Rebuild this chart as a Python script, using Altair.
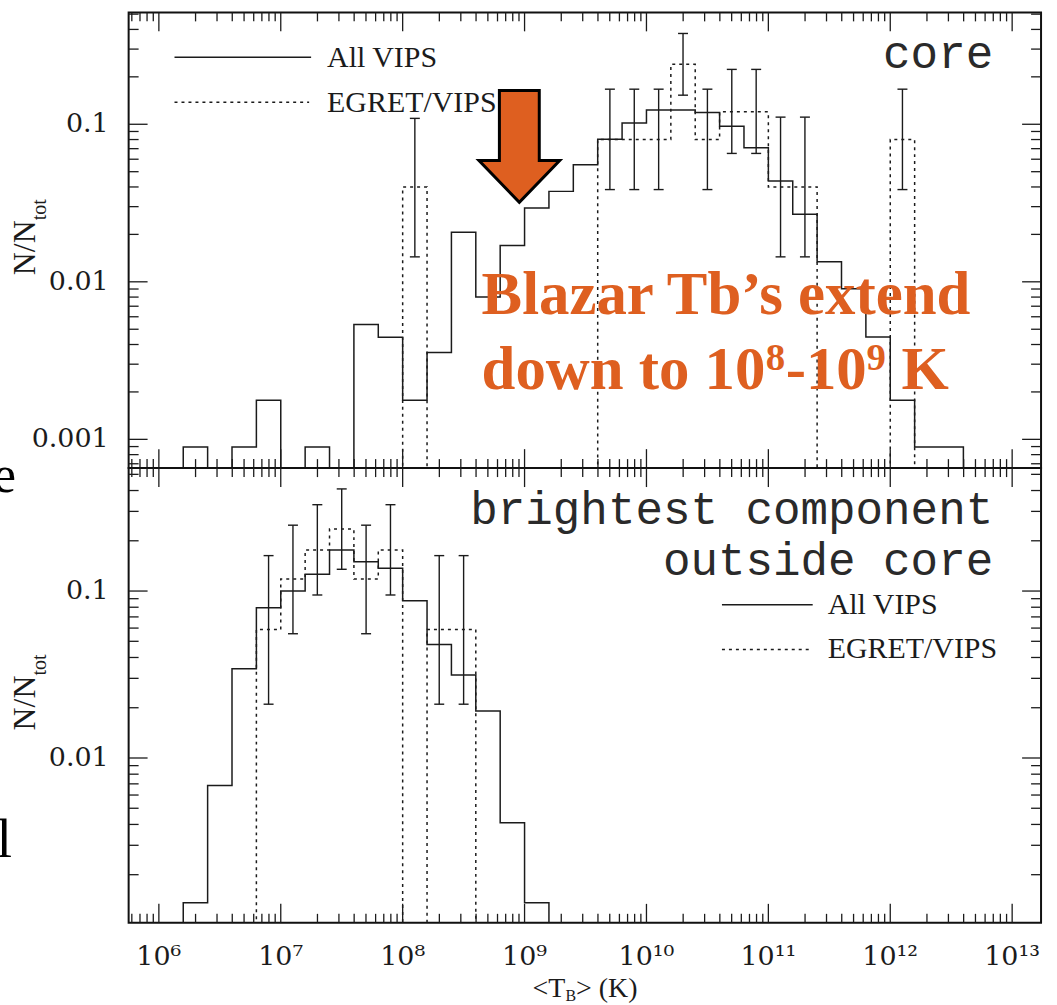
import math
import altair as alt
import pandas as pd

# ---------------- data ----------------
# upper panel: core brightness temperature; left bin edges in log10(T_B / K)
core_all_log_edge = [6.0, 6.2, 6.4, 6.6, 6.8, 7.0, 7.2, 7.4, 7.6, 7.8, 8.0, 8.2, 8.4, 8.6, 8.8, 9.0,
                     9.2, 9.4, 9.6, 9.8, 10.0, 10.2, 10.4, 10.6, 10.8, 11.0, 11.2, 11.4, 11.6, 11.8,
                     12.0, 12.2, 12.4, 12.6]
core_all_frac = [0, 0.000895, 0, 0.000895, 0.00177, 0, 0.000895, 0, 0.00535, 0.00445, 0.00177,
                 0.00356, 0.0206, 0.0080, 0.0170, 0.0294, 0.0375, 0.0553, 0.0804, 0.102, 0.123,
                 0.123, 0.1186, 0.097, 0.071, 0.0436, 0.0268, 0.0134, 0.00903, 0.00446, 0.00177,
                 0.000895, 0.000895, 0]
core_egret_log_edge = [7.8, 8.0, 8.2, 8.4, 8.6, 8.8, 9.0, 9.2, 9.4, 9.6, 9.8, 10.0, 10.2, 10.4,
                       10.6, 10.8, 11.0, 11.2, 11.4, 11.6, 11.8, 12.0, 12.2]
core_egret_frac = [0, 0.04, 0, 0, 0, 0, 0, 0, 0, 0.08, 0.08, 0.08, 0.24, 0.08, 0.12, 0.12,
                   0.04, 0.04, 0, 0, 0, 0.08, 0]
core_err_log_center = [8.1, 9.7, 9.9, 10.1, 10.3, 10.5, 10.7, 10.9, 11.1, 11.3, 12.1]
core_err_lo = [0.0144, 0.0385, 0.0385, 0.0385, 0.153, 0.0385, 0.0653, 0.0653, 0.0144, 0.0144, 0.0385]
core_err_hi = [0.109, 0.167, 0.167, 0.167, 0.377, 0.167, 0.223, 0.223, 0.111, 0.111, 0.167]

# lower panel: brightest component outside the core
comp_all_log_edge = [6.0, 6.2, 6.4, 6.6, 6.8, 7.0, 7.2, 7.4, 7.6, 7.8, 8.0, 8.2, 8.4, 8.6, 8.8,
                     9.0, 9.2]
comp_all_frac = [0, 0.00136, 0.00684, 0.0343, 0.0795, 0.100, 0.126, 0.176, 0.150, 0.137, 0.0876,
                 0.0478, 0.0314, 0.0191, 0.0041, 0.00136, 0]
comp_egret_log_edge = [6.6, 6.8, 7.0, 7.2, 7.4, 7.6, 7.8, 8.0, 8.2, 8.4, 8.6]
comp_egret_frac = [0, 0.0588, 0.118, 0.176, 0.235, 0.118, 0.176, 0, 0.0588, 0.0588, 0]
comp_err_log_center = [6.9, 7.1, 7.3, 7.5, 7.7, 7.9, 8.3, 8.5]
comp_err_lo = [0.021, 0.0555, 0.0947, 0.135, 0.0555, 0.0947, 0.021, 0.021]
comp_err_hi = [0.163, 0.248, 0.329, 0.409, 0.248, 0.329, 0.163, 0.163]

# axis labels
x_label_values = [1e6, 1e7, 1e8, 1e9, 1e10, 1e11, 1e12, 1e13]
x_label_text = ["10\u2076", "10\u2077", "10\u2078", "10\u2079", "10\u00b9\u2070",
                "10\u00b9\u00b9", "10\u00b9\u00b2", "10\u00b9\u00b3"]
core_y_label_values = [0.001, 0.01, 0.1]
core_y_label_text = ["0.001", "0.01", "0.1"]
comp_y_label_values = [0.01, 0.1]
comp_y_label_text = ["0.01", "0.1"]

# annotation anchors (data coordinates)
arrow_T = [9.06e8]
arrow_f = [0.0723]
note_T = [4.44e8]
note_line1_f = [0.00627]
note_line2_f = [0.00210]
note_line1 = "Blazar Tb\u2019s extend"
# second line pieces: (text, x shift px, y shift px, size)
note_line2_parts = [("down to 10", 0, 0, 61), ("8", 285, -19, 39), ("-10", 305, 0, 61),
                    ("9", 386, -19, 39), ("K", 421, 0, 61)]

# ---------------- styling / geometry ----------------
X_LO, X_HI = 5.752, 13.237
CORE_Y = [0.000657, 0.513]
COMP_Y = [0.00103, 0.545]
W, H_TOP, H_BOT = 915, 457, 456
FLOOR = 1e-7
INK = "#1b1b1b"
ORANGE = "#DE5F20"
SERIF = "Liberation Serif"
NUMF = "DejaVu Serif"
MONO = "Liberation Mono"

x_scale = alt.Scale(type="log", domain=[10 ** X_LO, 10 ** X_HI], nice=False)


def yscale(dom):
    return alt.Scale(type="log", domain=dom, nice=False)


def one():
    return pd.DataFrame({"a": [0]})


def log_ticks(lo, hi):
    major, minor = [], []
    for d in range(int(math.floor(lo)) - 1, int(math.ceil(hi)) + 1):
        for m in range(1, 10):
            v = m * 10.0 ** d
            if lo <= math.log10(v) <= hi:
                (major if m == 1 else minor).append(v)
    return major, minor


def step_layer(edges, fracs, ys, dash=None):
    df = pd.DataFrame({"T": [10 ** e for e in edges],
                       "f": [v if v > 0 else FLOOR for v in fracs],
                       "o": list(range(len(edges)))})
    kw = dict(interpolate="step-after", clip=True, color=INK, strokeWidth=1.5)
    if dash:
        kw["strokeDash"] = dash
    return alt.Chart(df).mark_line(**kw).encode(
        x=alt.X("T:Q", scale=x_scale, axis=None),
        y=alt.Y("f:Q", scale=ys, axis=None),
        order="o:Q")


def err_layers(centers, lo, hi, ys):
    df = pd.DataFrame({"T": [10 ** c for c in centers], "lo": lo, "hi": hi})
    bars = alt.Chart(df).mark_rule(color=INK, strokeWidth=1.4).encode(
        x=alt.X("T:Q", scale=x_scale, axis=None),
        y=alt.Y("lo:Q", scale=ys, axis=None), y2="hi:Q")
    caps_df = pd.DataFrame({"T": [10 ** c for c in centers] * 2, "v": list(lo) + list(hi)})
    caps = alt.Chart(caps_df).mark_point(shape="M -1 0 L 1 0", size=100, filled=False,
                                         color=INK, strokeWidth=1.4, opacity=1).encode(
        x=alt.X("T:Q", scale=x_scale, axis=None),
        y=alt.Y("v:Q", scale=ys, axis=None))
    return [bars, caps]


def x_tick_layers(h):
    major, minor = log_ticks(X_LO, X_HI)
    out = []
    for vals, ln in ((major, 19), (minor, 9)):
        df = pd.DataFrame({"T": vals})
        for y0, y1 in ((h, h - ln), (0, ln)):
            out.append(alt.Chart(df).mark_rule(color=INK, strokeWidth=1.3).encode(
                x=alt.X("T:Q", scale=x_scale, axis=None),
                y=alt.value(y0), y2=alt.value(y1)))
    return out


def y_tick_layers(dom, ys):
    major, minor = log_ticks(math.log10(dom[0]), math.log10(dom[1]))
    out = []
    for vals, ln in ((major, 19), (minor, 10)):
        df = pd.DataFrame({"v": vals})
        for x0, x1 in ((0, ln), (W, W - ln)):
            out.append(alt.Chart(df).mark_rule(color=INK, strokeWidth=1.3).encode(
                y=alt.Y("v:Q", scale=ys, axis=None),
                x=alt.value(x0), x2=alt.value(x1)))
    return out


def txt(t, x, y, size, font, align="left", baseline="alphabetic", angle=None,
        color=INK, weight="normal"):
    kw = dict(align=align, baseline=baseline, font=font, fontSize=size, color=color,
              fontWeight=weight)
    if angle is not None:
        kw["angle"] = angle
    return alt.Chart(pd.DataFrame({"t": [t]})).mark_text(**kw).encode(
        x=alt.value(x), y=alt.value(y), text="t:N")


def hline(x0, x1, y, dash=None):
    kw = dict(color=INK, strokeWidth=1.5)
    if dash:
        kw["strokeDash"] = dash
    return alt.Chart(one()).mark_rule(**kw).encode(x=alt.value(x0), x2=alt.value(x1), y=alt.value(y))


def y_labels(vals, texts, ys):
    df = pd.DataFrame({"v": vals, "t": texts})
    return alt.Chart(df).mark_text(align="right", baseline="middle", font=NUMF, fontSize=27,
                                   color=INK).encode(
        x=alt.value(-20), y=alt.Y("v:Q", scale=ys, axis=None), text="t:N")


def y_title(h_center_rel):
    split = h_center_rel - 20
    return [txt("N/N", -94, split, 32, SERIF, align="right", angle=270),
            txt("tot", -83, split, 20, SERIF, align="left", angle=270)]


def note_text(t, f, size, dx=0, dy=0):
    return alt.Chart(pd.DataFrame({"T": note_T, "f": f, "t": [t]})).mark_text(
        align="left", baseline="alphabetic", font=SERIF, fontSize=size, fontWeight="bold",
        color=ORANGE, dx=dx, dy=dy).encode(
        x=alt.X("T:Q", scale=x_scale, axis=None),
        y=alt.Y("f:Q", scale=ys_top, axis=None), text="t:N")


# ---------------- upper panel ----------------
ys_top = yscale(CORE_Y)
top_layers = [
    step_layer(core_all_log_edge, core_all_frac, ys_top),
    step_layer(core_egret_log_edge, core_egret_frac, ys_top, dash=[3, 4]),
    *err_layers(core_err_log_center, core_err_lo, core_err_hi, ys_top),
    *x_tick_layers(H_TOP),
    *y_tick_layers(CORE_Y, ys_top),
    y_labels(core_y_label_values, core_y_label_text, ys_top),
    *y_title(H_TOP / 2),
    hline(46, 183, 45),
    hline(46, 181, 90, dash=[3, 4]),
    txt("All VIPS", 199, 55, 30, SERIF),
    txt("EGRET/VIPS", 199, 100, 30, SERIF),
    txt("core", 867, 56, 46, MONO, align="right", color="#2a2a2a"),
    alt.Chart(pd.DataFrame({"T": arrow_T, "f": arrow_f})).mark_point(
        shape="M -0.357 -1 L 0.357 -1 L 0.357 0.25 L 0.723 0.25 L 0 1 L -0.723 0.25 L -0.357 0.25 Z",
        size=12544, filled=True, fill=ORANGE, stroke="#000000", strokeWidth=3, opacity=1).encode(
        x=alt.X("T:Q", scale=x_scale, axis=None), y=alt.Y("f:Q", scale=ys_top, axis=None)),
    note_text(note_line1, note_line1_f, 61),
    *[note_text(t, note_line2_f, s, dx=dx, dy=dy) for (t, dx, dy, s) in note_line2_parts],
]
top = alt.layer(*top_layers).properties(width=W, height=H_TOP)

# ---------------- lower panel ----------------
ys_bot = yscale(COMP_Y)
x_lab_df = pd.DataFrame({"T": x_label_values, "t": x_label_text})
bot_layers = [
    step_layer(comp_all_log_edge, comp_all_frac, ys_bot),
    step_layer(comp_egret_log_edge, comp_egret_frac, ys_bot, dash=[3, 4]),
    *err_layers(comp_err_log_center, comp_err_lo, comp_err_hi, ys_bot),
    *x_tick_layers(H_BOT),
    *y_tick_layers(COMP_Y, ys_bot),
    y_labels(comp_y_label_values, comp_y_label_text, ys_bot),
    *y_title(H_BOT / 2),
    hline(595, 686, 137),
    hline(595, 686, 182, dash=[3, 4]),
    txt("All VIPS", 701, 146, 30, SERIF),
    txt("EGRET/VIPS", 701, 190, 30, SERIF),
    txt("brightest component", 867, 56, 46, MONO, align="right", color="#2a2a2a"),
    txt("outside core", 867, 107, 46, MONO, align="right", color="#2a2a2a"),
    alt.Chart(x_lab_df).mark_text(align="center", baseline="alphabetic", font=NUMF,
                                  fontSize=27, color=INK).encode(
        x=alt.X("T:Q", scale=x_scale, axis=None), y=alt.value(498), text="t:N"),
    txt("<T", 405, 530, 28, SERIF),
    txt("B", 438, 534, 16, SERIF),
    txt("> (K)", 448.7, 530, 28, SERIF),
    # fragments of slide text cut by the left edge
    txt("e", -113, 24, 52, SERIF, align="right", color="#000000"),
    txt("l", -117, 390, 56, SERIF, align="right", color="#000000"),
]
bottom = alt.layer(*bot_layers).properties(width=W, height=H_BOT)

chart = alt.VConcatChart(vconcat=[top, bottom], spacing=0, bounds="flush").properties(
    padding={"left": -9, "top": 9, "right": 14, "bottom": 0},
    background="white",
).configure_view(stroke="#111111", strokeWidth=2)

chart.save("out.html", embed_options={"renderer": "svg", "actions": False})
